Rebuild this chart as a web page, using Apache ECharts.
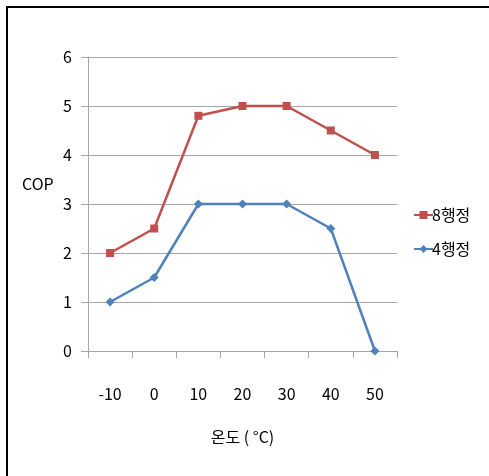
<!DOCTYPE html>
<html>
<head>
<meta charset="utf-8">
<script src="https://cdn.jsdelivr.net/npm/echarts@6/dist/echarts.min.js"></script>
<style>
html,body{margin:0;padding:0;background:#fff;}
#c{width:489px;height:476px;}
</style>
</head>
<body>
<div id="c"></div>
<script>
const categories = ['-10', '0', '10', '20', '30', '40', '50'];
const series8 = [2, 2.5, 4.8, 5, 5, 4.5, 4];
const series4 = [1, 1.5, 3, 3, 3, 2.5, 0];
const seriesNames = ['8행정', '4행정'];
const yTicks = [0, 1, 2, 3, 4, 5, 6];

const FONT = '"Noto Sans CJK KR", "Noto Sans", sans-serif';
const chart = echarts.init(document.getElementById('c'), null, {renderer: 'canvas'});
chart.setOption({
  animation: false,
  backgroundColor: '#fff',
  textStyle: {fontFamily: FONT},
  grid: {left: 88, right: 92, top: 57, bottom: 125, containLabel: false},
  graphic: [
    {type: 'rect', shape: {x: 7, y: 7, width: 700, height: 700}, style: {fill: 'none', stroke: '#000', lineWidth: 2}, z: 10},
    {type: 'text', left: 22, top: 176, style: {text: 'COP', font: '16px ' + FONT, fill: '#000'}}
  ],
  legend: {
    orient: 'vertical', left: 408, top: 202, itemGap: 18,
    itemWidth: 19, itemHeight: 10,
    textStyle: {fontSize: 16, color: '#000', fontFamily: FONT, padding: [0,0,0,-6]},
    data: seriesNames
  },
  xAxis: {
    type: 'category', data: categories, boundaryGap: true,
    name: '온도 ( °C)', nameLocation: 'middle', nameGap: 78,
    nameTextStyle: {fontSize: 16, color: '#000', fontFamily: FONT},
    axisLine: {show: true, lineStyle: {color: '#a6a6a6', width: 1}},
    axisTick: {show: true, length: 7, inside: false, lineStyle: {color: '#a6a6a6'}},
    axisLabel: {fontSize: 16, color: '#000', margin: 35, fontFamily: FONT},
    splitLine: {show: false}
  },
  yAxis: {
    type: 'value', min: yTicks[0], max: yTicks[yTicks.length-1], interval: 1,
    axisLine: {show: true, lineStyle: {color: '#a6a6a6', width: 1}},
    axisTick: {show: true, length: 7, lineStyle: {color: '#a6a6a6'}},
    axisLabel: {fontSize: 16, color: '#000', margin: 16, fontFamily: FONT},
    splitLine: {show: true, lineStyle: {color: '#a6a6a6', width: 1}}
  },
  series: [
    {
      name: seriesNames[0], type: 'line', data: series8,
      symbol: 'rect', symbolSize: 8,
      lineStyle: {color: '#C0504D', width: 2.5},
      itemStyle: {color: '#C0504D'}
    },
    {
      name: seriesNames[1], type: 'line', data: series4,
      symbol: 'diamond', symbolSize: 9,
      lineStyle: {color: '#4F81BD', width: 2.5},
      itemStyle: {color: '#4F81BD'}
    }
  ]
});
</script>
</body>
</html>
